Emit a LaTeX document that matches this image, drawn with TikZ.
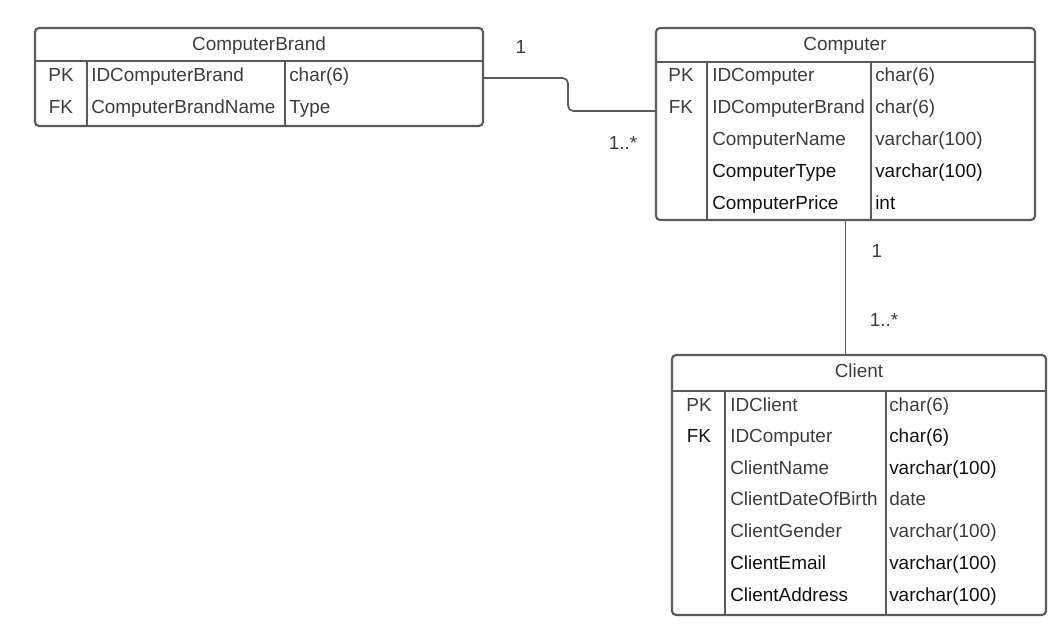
\documentclass[tikz,border=0pt]{standalone}
\usepackage{fontspec}
\setmainfont{Liberation Sans}
\usetikzlibrary{fit}
\definecolor{ln}{HTML}{5A5A5A}
\definecolor{tg}{HTML}{3C3C3C}
\definecolor{tb}{HTML}{111111}
\tikzset{
  box/.style={draw=ln, line width=1.6pt, rounded corners=3pt, inner sep=0pt},
  sep/.style={draw=ln, line width=1.6pt},
  conn/.style={draw=ln, line width=1.3pt},
  txt/.style={inner sep=0pt, text height=10.2pt, text depth=0pt, font=\fontsize{14.2}{17}\selectfont, text=tg},
  cell/.style={txt, anchor=west},
  bcell/.style={cell, text=tb},
  key/.style={txt},
  card/.style={txt, text=tg},
}
\begin{document}
\begin{tikzpicture}[x=0.75pt,y=-0.75pt]
\useasboundingbox (0,0) rectangle (1064,641);
% ComputerBrand
\node[box, fit={(35,28) (483,126)}] (brand) {};
\draw[sep] (brand.west |- 0,61) -- (brand.east |- 0,61);
\draw[sep] (87,61) -- (87,0 |- brand.south);
\draw[sep] (285,61) -- (285,0 |- brand.south);
\node[txt] (brandT) at (259,44) {ComputerBrand};
\node[key] (bPK) at (61,75) {PK};
\node[key] (bFK) at (61,107) {FK};
\node[cell] (b1) at (91,75) {IDComputerBrand};
\node[cell] (b2) at (91,107) {ComputerBrandName};
\node[cell] (b1t) at (289,75) {char(6)};
\node[cell] (b2t) at (289,107) {Type};
% Computer
\node[box, fit={(656,28) (1035,220)}] (comp) {};
\draw[sep] (comp.west |- 0,62) -- (comp.east |- 0,62);
\draw[sep] (707,62) -- (707,0 |- comp.south);
\draw[sep] (871,62) -- (871,0 |- comp.south);
\node[txt] (compT) at (845,44) {Computer};
\node[key] (cPK) at (681,75) {PK};
\node[key] (cFK) at (681,107) {FK};
\node[cell] (c1) at (712,75) {IDComputer};
\node[cell] (c2) at (712,107) {IDComputerBrand};
\node[cell] (c3) at (712,139) {ComputerName};
\node[bcell] (c4) at (712,171) {ComputerType};
\node[bcell] (c5) at (712,203) {ComputerPrice};
\node[cell] (c1t) at (875,75) {char(6)};
\node[cell] (c2t) at (875,107) {char(6)};
\node[cell] (c3t) at (875,139) {varchar(100)};
\node[bcell] (c4t) at (875,171) {varchar(100)};
\node[bcell] (c5t) at (875,203) {int};
% Client
\node[box, fit={(672,355) (1046,615)}] (client) {};
\draw[sep] (client.west |- 0,391) -- (client.east |- 0,391);
\draw[sep] (725,391) -- (725,0 |- client.south);
\draw[sep] (886,391) -- (886,0 |- client.south);
\node[txt] (clientT) at (859,371) {Client};
\node[key] (lPK) at (699,405) {PK};
\node[key, text=tb] (lFK) at (699,436) {FK};
\node[cell] (l1) at (730,405) {IDClient};
\node[cell] (l2) at (730,436) {IDComputer};
\node[cell] (l3) at (730,468) {ClientName};
\node[cell] (l4) at (730,499) {ClientDateOfBirth};
\node[cell] (l5) at (730,531) {ClientGender};
\node[bcell] (l6) at (730,563) {ClientEmail};
\node[bcell] (l7) at (730,595) {ClientAddress};
\node[cell] (l1t) at (889,405) {char(6)};
\node[bcell] (l2t) at (889,436) {char(6)};
\node[bcell] (l3t) at (889,468) {varchar(100)};
\node[cell] (l4t) at (889,499) {date};
\node[cell] (l5t) at (889,531) {varchar(100)};
\node[bcell] (l6t) at (889,563) {varchar(100)};
\node[bcell] (l7t) at (889,595) {varchar(100)};
% connectors
\draw[conn, rounded corners=4pt] (brand.east |- 0,78) -- (568,78) -- (568,111) -- (comp.west |- 0,111);
\draw[conn] (comp.south) -- (comp.south |- client.north);
\node[card] (m1a) at (521,47) {1};
\node[card] (m1b) at (623,143) {1..*};
\node[card] (m2a) at (877,251) {1};
\node[card] (m2b) at (884,320) {1..*};
\end{tikzpicture}
\end{document}
